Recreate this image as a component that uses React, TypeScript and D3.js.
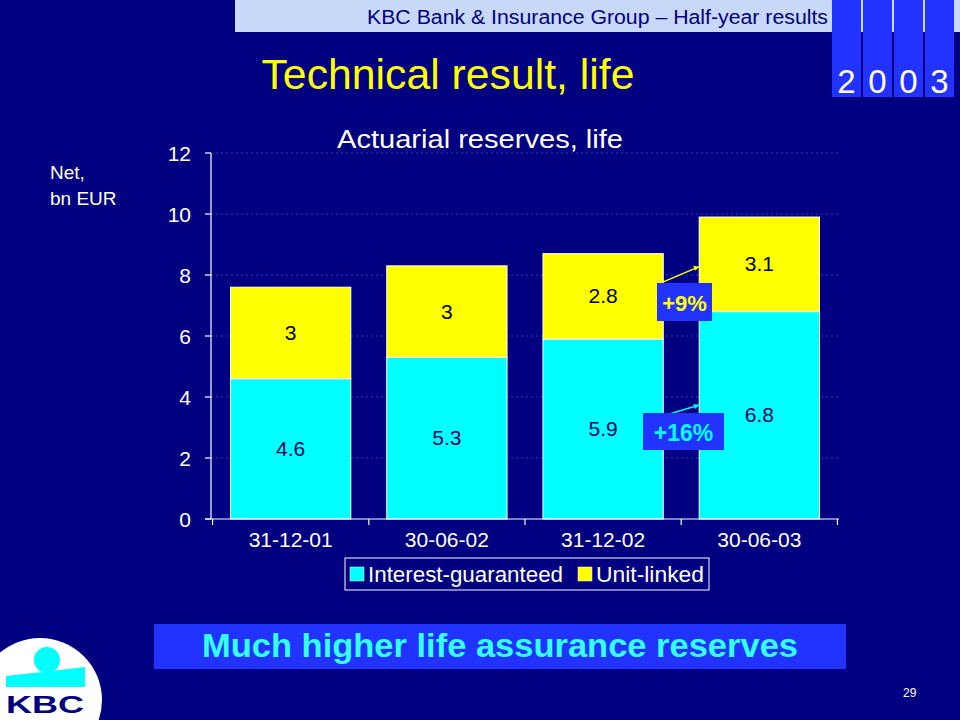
import * as d3 from 'd3';

const categories = ['31-12-01', '30-06-02', '31-12-02', '30-06-03'];
const interestGuaranteed = [4.6, 5.3, 5.9, 6.8];
const unitLinked = [3, 3, 2.8, 3.1];
const yTicks = [0, 2, 4, 6, 8, 10, 12];
const seriesNames = ['Interest-guaranteed', 'Unit-linked'];
const seriesColors = ['#00FFFF', '#FFFF00'];

const W = 960;
const H = 720;
const NAVY = '#000080';
const BRIGHT = '#2233FF';
const FONT = '"Liberation Sans", Arial, sans-serif';

const fmt = (v: number) => String(Math.round(v * 10) / 10);

export default function App() {
  const x = d3
    .scaleBand<string>()
    .domain(categories)
    .range([211, 839])
    .paddingInner(0.23)
    .paddingOuter(0.125);
  const y = d3.scaleLinear().domain([0, 12]).range([519, 153]);

  const rows = categories.map((c, i) => ({
    cat: c,
    ig: interestGuaranteed[i],
    ul: unitLinked[i],
  }));
  const stacked = d3.stack<any>().keys(['ig', 'ul'])(rows);

  const step = x.step();
  const bounds = categories.map((c) => (x(c) as number) - (step * x.paddingInner()) / 2);
  bounds.push(bounds[bounds.length - 1] + step);

  const lastX = x(categories[3]) as number;
  const prevX = (x(categories[2]) as number) + x.bandwidth();

  return (
    <svg width={W} height={H} style={{ display: 'block', position: 'absolute', left: 0, top: 0 }}>
      <rect width={W} height={H} fill={NAVY} />

      {/* header strip */}
      <rect x={235} y={0} width={W - 235} height={32} fill="#C8D8F8" />
      <text x={828} y={24} textAnchor="end" fontFamily={FONT} fontSize={20} fill={NAVY} textLength={461} lengthAdjust="spacingAndGlyphs">
        KBC Bank &amp; Insurance Group – Half-year results
      </text>
      {['2', '0', '0', '3'].map((d, i) => {
        const bx = [832, 863, 894, 925][i];
        return (
          <g key={i}>
            <rect x={bx} y={0} width={29} height={97} fill={BRIGHT} />
            <text x={bx + 14.5} y={93} textAnchor="middle" fontFamily={FONT} fontSize={33} fill="#fff">
              {d}
            </text>
          </g>
        );
      })}

      <text x={448} y={89} textAnchor="middle" fontFamily={FONT} fontSize={43} fill="#FFFF00" textLength={373} lengthAdjust="spacingAndGlyphs">
        Technical result, life
      </text>

      <text x={480} y={148} textAnchor="middle" fontFamily={FONT} fontSize={25} fill="#fff" textLength={286} lengthAdjust="spacingAndGlyphs">
        Actuarial reserves, life
      </text>
      <text x={50} y={179} fontFamily={FONT} fontSize={19} fill="#fff">Net,</text>
      <text x={50} y={205} fontFamily={FONT} fontSize={19} fill="#fff">bn EUR</text>

      {/* gridlines */}
      {yTicks.slice(1).map((t) => (
        <line key={t} x1={211} x2={839} y1={y(t)} y2={y(t)} stroke="#2a3cc0" strokeWidth={1} strokeDasharray="2,3" />
      ))}

      {/* bars */}
      {stacked.map((s, si) =>
        s.map((d, i) => (
          <rect
            key={si + '-' + i}
            x={x(categories[i])}
            y={y(d[1])}
            width={x.bandwidth()}
            height={y(d[0]) - y(d[1])}
            fill={seriesColors[si]}
            stroke="#fff"
            strokeWidth={1}
          />
        ))
      )}
      {stacked.map((s, si) =>
        s.map((d, i) => (
          <text
            key={'l' + si + '-' + i}
            x={(x(categories[i]) as number) + x.bandwidth() / 2}
            y={(y(d[0]) + y(d[1])) / 2 + 7}
            textAnchor="middle"
            fontFamily={FONT}
            fontSize={21}
            fill={si === 0 ? '#00005a' : '#000'}
          >
            {fmt(d[1] - d[0])}
          </text>
        ))
      )}

      {/* axes */}
      <line x1={211} x2={211} y1={y(12)} y2={y(0)} stroke="#fff" strokeWidth={1.2} />
      {yTicks.map((t) => (
        <g key={t}>
          <line x1={205} x2={211} y1={y(t)} y2={y(t)} stroke="#fff" strokeWidth={1.2} />
          <text x={191} y={y(t) + 8} textAnchor="end" fontFamily={FONT} fontSize={21} fill="#fff">
            {t}
          </text>
        </g>
      ))}
      <line x1={205} x2={839} y1={y(0)} y2={y(0)} stroke="#fff" strokeWidth={1.2} />
      {bounds.map((b, i) => (
        <line key={i} x1={b} x2={b} y1={y(0)} y2={y(0) + 6} stroke="#fff" strokeWidth={1.2} />
      ))}
      {categories.map((c) => (
        <text
          key={c}
          x={(x(c) as number) + x.bandwidth() / 2}
          y={547}
          textAnchor="middle"
          fontFamily={FONT}
          fontSize={21}
          fill="#fff"
        >
          {c}
        </text>
      ))}

      {/* growth annotations */}
      <line x1={prevX - 4} y1={y(8.7) + 30} x2={lastX} y2={y(8.7) + 13} stroke="#FFFF00" strokeWidth={1.5} />
      <path d={`M${lastX} ${y(8.7) + 13} l-6 -1 l2 5 z`} fill="#FFFF00" />
      <rect x={657} y={283} width={55} height={38} fill={BRIGHT} />
      <text x={684.5} y={311} textAnchor="middle" fontFamily={FONT} fontWeight="bold" fontSize={22} fill="#FFFF00">
        +9%
      </text>
      <line x1={643} y1={422} x2={lastX} y2={405} stroke="#00FFFF" strokeWidth={1.5} />
      <path d={`M${lastX} 405 l-6 -1 l2 5 z`} fill="#00FFFF" />
      <rect x={643} y={413} width={81} height={37} fill={BRIGHT} />
      <text x={683.5} y={441} textAnchor="middle" fontFamily={FONT} fontWeight="bold" fontSize={23} fill="#00FFFF">
        +16%
      </text>

      {/* legend */}
      <rect x={345} y={558} width={364} height={32} fill="none" stroke="#fff" strokeWidth={1} />
      <rect x={350} y={567} width={14} height={14} fill={seriesColors[0]} stroke="#fff" strokeWidth={0.5} />
      <text x={368} y={582} fontFamily={FONT} fontSize={22} fill="#fff" textLength={195} lengthAdjust="spacingAndGlyphs">{seriesNames[0]}</text>
      <rect x={578} y={567} width={14} height={14} fill={seriesColors[1]} stroke="#fff" strokeWidth={0.5} />
      <text x={596} y={582} fontFamily={FONT} fontSize={22} fill="#fff" textLength={108} lengthAdjust="spacingAndGlyphs">{seriesNames[1]}</text>

      {/* bottom banner */}
      <rect x={154} y={624} width={692} height={45} fill={BRIGHT} />
      <text
        x={500}
        y={657}
        textAnchor="middle"
        fontFamily={FONT}
        fontWeight="bold"
        fontSize={33}
        fill="#33FFFF"
        textLength={596}
        lengthAdjust="spacingAndGlyphs"
      >
        Much higher life assurance reserves
      </text>

      <text x={903} y={697} fontFamily={FONT} fontSize={12} fill="#fff">29</text>

      {/* KBC logo */}
      <circle cx={40} cy={700} r={62} fill="#fff" />
      <circle cx={47} cy={660} r={13} fill="#00FFFF" />
      <path d="M6 676 Q45 672 85 667 L85 687 L6 687 Z" fill="#00FFFF" />
      <text x={45} y={713} textAnchor="middle" fontFamily={FONT} fontWeight="900" fontSize={24} fill={NAVY} textLength={78} lengthAdjust="spacingAndGlyphs">
        KBC
      </text>
    </svg>
  );
}
